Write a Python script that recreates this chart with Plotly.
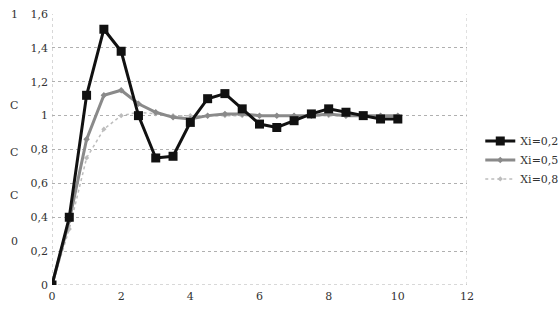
import plotly.graph_objects as go

t = [0, 0.5, 1, 1.5, 2, 2.5, 3, 3.5, 4, 4.5, 5, 5.5, 6, 6.5, 7, 7.5, 8, 8.5, 9, 9.5, 10]
xi02 = [0, 0.40, 1.12, 1.51, 1.38, 1.00, 0.75, 0.76, 0.96, 1.10, 1.13, 1.04, 0.95, 0.93, 0.97, 1.01, 1.04, 1.02, 1.00, 0.98, 0.98]
xi05 = [0, 0.38, 0.86, 1.12, 1.15, 1.07, 1.02, 0.99, 0.98, 1.00, 1.01, 1.01, 1.00, 1.00, 1.00, 1.00, 1.01, 1.00, 1.00, 1.00, 1.00]
xi08 = [0, 0.33, 0.75, 0.92, 1.00, 1.02, 1.01, 1.00, 1.00, 1.00, 1.00, 1.00, 1.00, 1.00, 1.00, 1.00, 1.00, 1.00, 1.00, 1.00, 1.00]
names = ["Xi=0,2", "Xi=0,5", "Xi=0,8"]
yticks = [0, 0.2, 0.4, 0.6, 0.8, 1, 1.2, 1.4, 1.6]
xticks = [0, 2, 4, 6, 8, 10, 12]
side_text = ["1", "C", "C", "C", "0"]
side_y = [14, 106, 152, 195, 241]

FONT = "DejaVu Serif"
fig = go.Figure()
fig.add_trace(go.Scatter(x=t, y=xi08, name=names[2], mode="lines+markers",
                         line=dict(color="#bdbdbd", width=1.5, dash="dot"),
                         marker=dict(symbol="diamond", size=4, color="#bdbdbd")))
fig.add_trace(go.Scatter(x=t, y=xi05, name=names[1], mode="lines+markers",
                         line=dict(color="#8a8a8a", width=3),
                         marker=dict(symbol="diamond", size=5, color="#8a8a8a")))
fig.add_trace(go.Scatter(x=t, y=xi02, name=names[0], mode="lines+markers",
                         line=dict(color="#111111", width=3),
                         marker=dict(symbol="square", size=9, color="#111111")))

W, H = 558, 314
L, R, T, B = 52, 91, 14, 29
pw, ph = W - L - R, H - T - B
anns = []
for s, yy in zip(side_text, side_y):
    anns.append(dict(text=s, x=(14 - L) / pw, y=(H - B - yy) / ph, xref="paper", yref="paper",
                     showarrow=False, xanchor="center", yanchor="middle",
                     font=dict(family=FONT, size=11, color="#333")))

fig.update_layout(
    width=W, height=H, margin=dict(l=L, r=R, t=T, b=B, autoexpand=False),
    paper_bgcolor="white", plot_bgcolor="white",
    separators=", ",
    font=dict(family=FONT, size=11, color="#333"),
    showlegend=True,
    legend=dict(x=1.032, y=0.585, xanchor="left", yanchor="top", traceorder="reversed",
                font=dict(family=FONT, size=11, color="#333"), itemwidth=30,
                tracegroupgap=0, bgcolor="rgba(0,0,0,0)"),
    annotations=anns,
    xaxis=dict(range=[0, 12], tickvals=xticks, showgrid=False, zeroline=False,
               showline=False, ticks="", ticklen=0, ticklabelstandoff=3),
    yaxis=dict(range=[0, 1.6], tickvals=yticks, showgrid=True, gridcolor="#b0b0b0",
               griddash="dot", gridwidth=1, zeroline=False, showline=False,
               ticks="", tickformat=".1~f", ticklabelstandoff=3),
)
fig.add_shape(type="line", xref="x", yref="paper", x0=12, x1=12, y0=0, y1=1,
              line=dict(color="#c0c0c0", width=1, dash="dot"), layer="below")
fig.add_shape(type="line", xref="x", yref="paper", x0=0, x1=0, y0=0, y1=1,
              line=dict(color="#b0b0b0", width=1, dash="dot"), layer="below")
fig.add_shape(type="line", xref="paper", yref="y", x0=0, x1=1, y0=0, y1=0,
              line=dict(color="#b0b0b0", width=1, dash="dot"), layer="below")
fig.write_html("out.html")
